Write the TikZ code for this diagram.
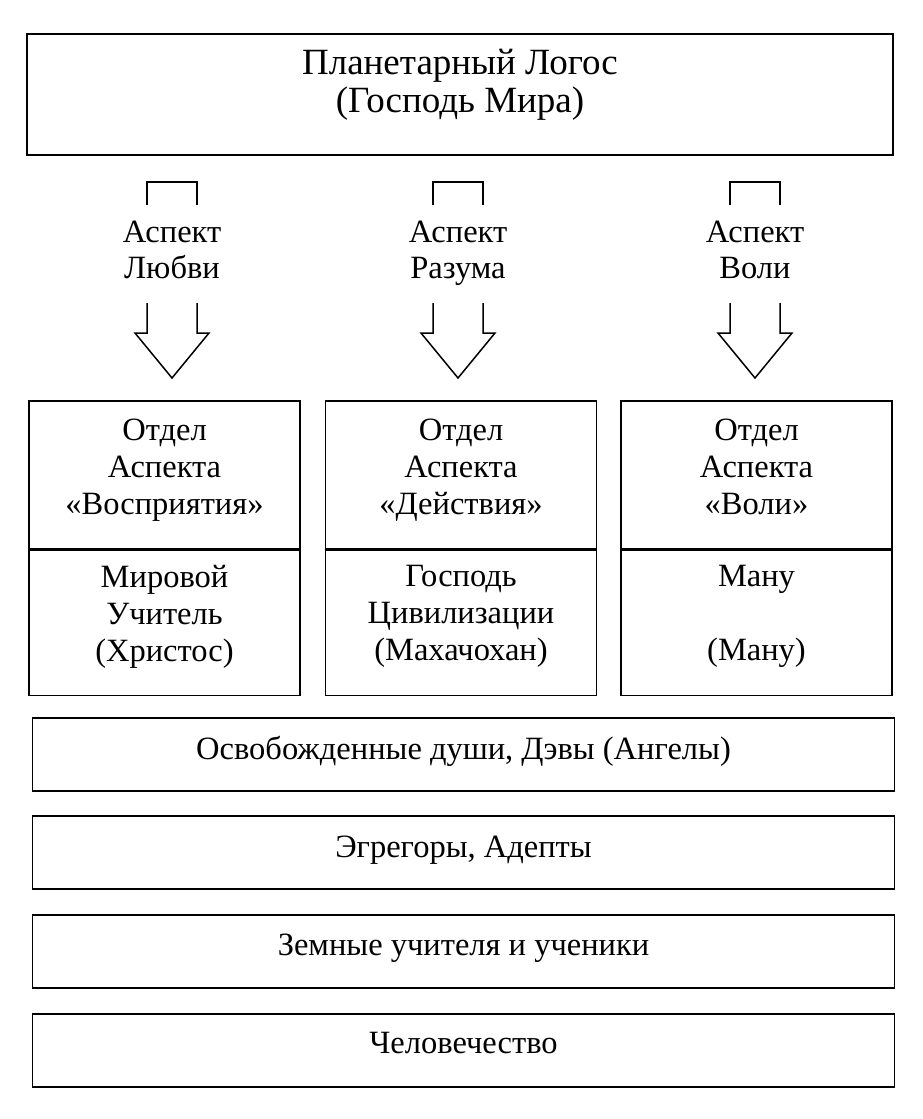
\documentclass[tikz,border=0pt]{standalone}
\usepackage{fontspec}
\setmainfont{Liberation Serif}
\usetikzlibrary{positioning}

\begin{document}
\begin{tikzpicture}[
  x=1pt, y=-1pt,
  frame/.style={rectangle, draw=black, line width=1.6pt, inner sep=0pt},
  txt/.style={align=center, inner sep=0pt, font=\fontsize{32.5}{37}\selectfont,
              execute at begin node=\strut, execute at end node=\strut},
  bigtxt/.style={txt, font=\fontsize{37}{38}\selectfont},
  blk/.style={draw=black, line width=1.5pt, line join=miter}
]
\useasboundingbox (0,0) rectangle (923,1119);

% top level
\node[frame, minimum width=866, minimum height=121] (logos) at (460,94.5) {};
\node[bigtxt] (logosT) at (460,86.4) {Планетарный Логос\\(Господь Мира)};

% aspects with block arrows
\foreach \x/\nm/\asp in {172/lub/Любви, 458/raz/Разума, 755/vol/Воли}{
  \node[txt, font=\fontsize{32.5}{36}\selectfont] (\nm) at (\x,255.3) {Аспект\\\asp};
  \draw[blk] (\x-25,205) -- (\x-25,182) -- (\x+25,182) -- (\x+25,205);
  \draw[blk] (\x-25,303) -- (\x-25,333) -- (\x-37,333) -- (\x,378)
    -- (\x+37,333) -- (\x+25,333) -- (\x+25,303);
}

% departments
\foreach \x/\nm/\otd/\lic in {164.5/vos/«Восприятия»/{Мировой\\Учитель\\(Христос)},
    461/dei/«Действия»/{Господь\\Цивилизации\\(Махачохан)},
    756.5/vl/«Воли»/{Ману\\~\\(Ману)}}{
  \node[frame, minimum width=271, minimum height=148] (otd\nm) at (\x,475) {};
  \node[frame, minimum width=271, minimum height=145, below=0pt of otd\nm] (lic\nm) {};
  \node[txt] (otd\nm T) at (\x,472.6) {Отдел\\Аспекта\\\otd};
  \node[txt] (lic\nm T) at (\x,618.6) {\lic};
}

% lower levels
\foreach \y/\ty/\nm/\lvl in {754.5/752.2/osv/{Освобожденные души, Дэвы (Ангелы)},
    852.5/849.7/egr/{Эгрегоры, Адепты},
    951.5/948.2/zem/{Земные учителя и ученики},
    1050.5/1046.5/che/Человечество}{
  \node[frame, minimum width=862, minimum height=73] (\nm) at (463.5,\y) {};
  \node[txt] (\nm T) at (463.5,\ty) {\lvl};
}
\end{tikzpicture}
\end{document}
